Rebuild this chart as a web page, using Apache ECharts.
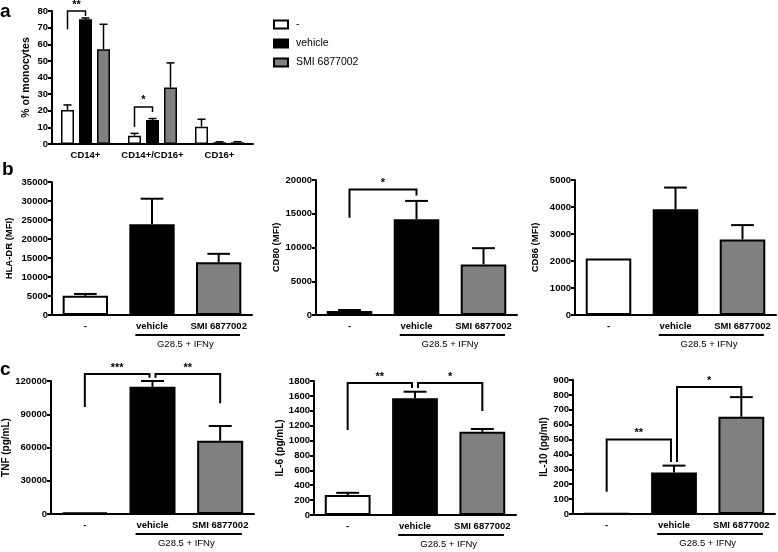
<!DOCTYPE html>
<html>
<head>
<meta charset="utf-8">
<script src="https://cdn.jsdelivr.net/npm/echarts@6/dist/echarts.min.js"></script>
<style>
html, body { margin: 0; padding: 0; background: #fff; }
#chart { width: 778px; height: 552px; }
</style>
</head>
<body>
<div id="chart"></div>
<script>
var treatments = ['-', 'vehicle', 'SMI 6877002'];
var subsets = ['CD14+', 'CD14+/CD16+', 'CD16+'];
var fillColors = ['#ffffff', '#000000', '#808080'];

// a: % of monocytes per subset, mean and upper error
var monoNone = [20.5, 5, 10.4];
var monoNoneErr = [3, 1.4, 4.5];
var monoVehicle = [75, 14.5, 1];
var monoVehicleErr = [0.8, 0.8, 0.3];
var monoSmi = [57, 34, 1];
var monoSmiErr = [15, 14.8, 0.4];

// b: MFI
var hlaDr = [5040, 23900, 13900];
var hlaDrErr = [500, 6700, 2200];
var cd80 = [590, 14200, 7500];
var cd80Err = [150, 2700, 2400];
var cd86 = [2090, 3920, 2800];
var cd86Err = [0, 800, 530];

// c: cytokines
var tnf = [1500, 114800, 66100];
var tnfErr = [0, 5200, 13300];
var il6 = [268, 1568, 1119];
var il6Err = [30, 88, 36];
var il10 = [5, 278, 653];
var il10Err = [0, 47, 132];

// y axis ticks: [max, step]
var monoTicks = [80, 10];
var hlaDrTicks = [35000, 5000];
var cd80Ticks = [20000, 5000];
var cd86Ticks = [5000, 1000];
var tnfTicks = [120000, 30000];
var il6Ticks = [1800, 200];
var il10Ticks = [900, 100];

// significance: a -> [subset, fromSeries, toSeries, leftY, topY, rightY, stars]
var monoBrackets = [
    [0, 0, 1, 69, 80, 77, '**'],
    [1, 0, 1, 10.2, 22.3, 19.2, '*']
];
// b/c -> [fromBar, toBar, leftY, topY, rightY, stars]
var cd80Brackets = [[0, 1, 14400, 18600, 17700, '*']];
var tnfBrackets = [[0, 1, 96500, 126300, 123000, '***'], [1, 2, 123000, 126300, 100000, '**']];
var il6Brackets = [[0, 1, 1142, 1773, 1706, '**'], [1, 2, 1706, 1773, 1397, '*']];
var il10Brackets = [[0, 1, 150, 500, 349, '**'], [1, 2, 349, 853, 786, '*']];

var FONT = '"Liberation Sans", Arial, sans-serif';
var BAR_W = 13, BAR_GAP = 5;

var grids = [
    {left: 52, top: 11, width: 201, height: 133},
    {left: 52, top: 182, width: 200, height: 133},
    {left: 316, top: 180, width: 201, height: 135},
    {left: 575, top: 180, width: 201, height: 135},
    {left: 51, top: 381, width: 203, height: 133},
    {left: 314, top: 381, width: 202, height: 134},
    {left: 573, top: 380, width: 202, height: 134}
];

function xAx(gi, cats) {
    return {
        type: 'category', gridIndex: gi, data: cats,
        axisLine: {lineStyle: {color: '#000', width: 2}},
        axisTick: {alignWithLabel: true, length: 4, lineStyle: {color: '#000', width: 2}},
        axisLabel: {interval: 0, color: '#000', fontSize: 9.5, fontWeight: 'bold', margin: 6, fontFamily: FONT}
    };
}

function yAx(gi, ticks, name, gap, nameSize) {
    return {
        type: 'value', gridIndex: gi, min: 0, max: ticks[0], interval: ticks[1],
        name: name, nameLocation: 'middle', nameGap: gap, nameRotate: 90,
        nameTextStyle: {color: '#000', fontSize: nameSize, fontWeight: 'bold', fontFamily: FONT},
        axisLine: {show: true, lineStyle: {color: '#000', width: 2}},
        axisTick: {show: true, length: 4, lineStyle: {color: '#000', width: 2}},
        axisLabel: {color: '#000', fontSize: 9.5, fontWeight: 'bold', margin: 4, fontFamily: FONT,
            formatter: function (v) { return String(v); }},
        splitLine: {show: false}
    };
}

function lineEl(x1, y1, x2, y2, w) {
    return {type: 'line', shape: {x1: x1, y1: y1, x2: x2, y2: y2}, style: {stroke: '#000', lineWidth: w}};
}

function errorBars(gi, means, errs, shift, capRatio, lw) {
    return {
        type: 'custom', xAxisIndex: gi, yAxisIndex: gi, z: 4, silent: true,
        renderItem: function (params, api) {
            var i = params.dataIndex;
            if (!errs[i]) return {type: 'group', children: []};
            var base = api.coord([i, means[i]]);
            var top = api.coord([i, means[i] + errs[i]]);
            var cap = api.size([1, 0])[0] * capRatio;
            var x = base[0] + shift;
            return {type: 'group', children: [
                lineEl(x, base[1], x, top[1], lw),
                lineEl(x - cap / 2, top[1], x + cap / 2, top[1], lw)
            ]};
        },
        data: means.map(function (v, i) { return [i, v + errs[i]]; })
    };
}

function bracketGroup(pts, label, lw) {
    var mid = (pts[1][0] + pts[2][0]) / 2;
    return {type: 'group', children: [
        {type: 'polyline', shape: {points: pts}, style: {stroke: '#000', lineWidth: lw, fill: null}},
        {type: 'text', style: {text: label, x: mid, y: pts[1][1] - 1, align: 'center', verticalAlign: 'bottom',
            fontSize: 11, fontWeight: 'bold', fontFamily: FONT, fill: '#000'}}
    ]};
}

function brackets(gi, list) {
    return {
        type: 'custom', xAxisIndex: gi, yAxisIndex: gi, z: 5, silent: true, clip: false,
        renderItem: function (params, api) {
            var b = list[params.dataIndex];
            var fromShared = list.some(function (o) { return o !== b && o[1] === b[0]; });
            var toShared = list.some(function (o) { return o !== b && o[0] === b[1]; });
            var x1 = api.coord([b[0], 0])[0] + (fromShared ? 3 : 0);
            var x2 = api.coord([b[1], 0])[0] - (toShared ? 3 : 0);
            var yl = api.coord([0, b[2]])[1], yt = api.coord([0, b[3]])[1], yr = api.coord([0, b[4]])[1];
            return bracketGroup([[x1, yl], [x1, yt], [x2, yt], [x2, yr]], b[5], 2);
        },
        data: list.map(function (b) { return [b[0], b[3]]; })
    };
}

function monoBracketSeries(list) {
    return {
        type: 'custom', xAxisIndex: 0, yAxisIndex: 0, z: 5, silent: true, clip: false,
        renderItem: function (params, api) {
            var b = list[params.dataIndex];
            var c = api.coord([b[0], 0])[0];
            var x1 = c + (b[1] - 1) * (BAR_W + BAR_GAP);
            var x2 = c + (b[2] - 1) * (BAR_W + BAR_GAP);
            var yl = api.coord([0, b[3]])[1], yt = api.coord([0, b[4]])[1], yr = api.coord([0, b[5]])[1];
            return bracketGroup([[x1, yl], [x1, yt], [x2, yt], [x2, yr]], b[6], 1.5);
        },
        data: list.map(function (b) { return [b[0], b[4]]; })
    };
}

function treatmentNote(gi) {
    return {
        type: 'custom', xAxisIndex: gi, yAxisIndex: gi, silent: true, clip: false,
        renderItem: function (params, api) {
            var p1 = api.coord([1, 0]), p2 = api.coord([2, 0]);
            var band = api.size([1, 0])[0];
            var y = p1[1] + 20;
            return {type: 'group', children: [
                lineEl(p1[0] - band * 0.25, y, p2[0] + band * 0.32, y, 2),
                {type: 'text', style: {text: 'G28.5 + IFNy', x: (p1[0] + p2[0]) / 2, y: y + 9,
                    align: 'center', verticalAlign: 'middle', fontSize: 9.5, fontFamily: FONT, fill: '#000'}}
            ]};
        },
        data: [[1, 0]]
    };
}

function treatmentBars(gi, values) {
    return {
        type: 'bar', xAxisIndex: gi, yAxisIndex: gi, barCategoryGap: '32%', z: 3, silent: true,
        data: values.map(function (v, i) {
            return {value: v, itemStyle: {color: fillColors[i], borderColor: '#000', borderWidth: 2}};
        })
    };
}

function monoBars(name, values, color) {
    return {
        name: name, type: 'bar', xAxisIndex: 0, yAxisIndex: 0, barWidth: BAR_W, barGap: (BAR_GAP / BAR_W * 100) + '%',
        z: 3, silent: true, data: values,
        itemStyle: {color: color, borderColor: '#000', borderWidth: 1.5}
    };
}

var panels = [
    [1, hlaDr, hlaDrErr, null],
    [2, cd80, cd80Err, cd80Brackets],
    [3, cd86, cd86Err, null],
    [4, tnf, tnfErr, tnfBrackets],
    [5, il6, il6Err, il6Brackets],
    [6, il10, il10Err, il10Brackets]
];

var series = [
    monoBars(treatments[0], monoNone, fillColors[0]),
    monoBars(treatments[1], monoVehicle, fillColors[1]),
    monoBars(treatments[2], monoSmi, fillColors[2]),
    errorBars(0, monoNone, monoNoneErr, -(BAR_W + BAR_GAP), 0.12, 1.5),
    errorBars(0, monoVehicle, monoVehicleErr, 0, 0.12, 1.5),
    errorBars(0, monoSmi, monoSmiErr, BAR_W + BAR_GAP, 0.12, 1.5),
    monoBracketSeries(monoBrackets)
];
panels.forEach(function (p) {
    series.push(treatmentBars(p[0], p[1]));
    series.push(errorBars(p[0], p[1], p[2], 0, 0.34, 2));
    series.push(treatmentNote(p[0]));
    if (p[3]) series.push(brackets(p[0], p[3]));
});

var chart = echarts.init(document.getElementById('chart'));
chart.setOption({
    animation: false,
    backgroundColor: '#fff',
    textStyle: {fontFamily: FONT},
    grid: grids,
    xAxis: [xAx(0, subsets), xAx(1, treatments), xAx(2, treatments), xAx(3, treatments),
        xAx(4, treatments), xAx(5, treatments), xAx(6, treatments)],
    yAxis: [
        yAx(0, monoTicks, '% of monocytes', 20, 10.5),
        yAx(1, hlaDrTicks, 'HLA-DR (MFI)', 38, 9.5),
        yAx(2, cd80Ticks, 'CD80 (MFI)', 35, 9.5),
        yAx(3, cd86Ticks, 'CD86 (MFI)', 35, 9.5),
        yAx(4, tnfTicks, 'TNF (pg/mL)', 39, 10),
        yAx(5, il6Ticks, 'IL-6 (pg/mL)', 26, 10),
        yAx(6, il10Ticks, 'IL-10 (pg/ml)', 22, 10)
    ],
    legend: {
        orient: 'vertical', left: 268, top: 14, itemWidth: 14, itemHeight: 8, itemGap: 8,
        icon: 'rect', data: treatments, selectedMode: false,
        textStyle: {color: '#000', fontSize: 10.5, fontFamily: FONT, padding: [0, 0, 0, 3]}
    },
    graphic: [
        {type: 'text', left: 0, top: 2, style: {text: 'a', fontSize: 19, fontWeight: 'bold', fontFamily: FONT, fill: '#000'}},
        {type: 'text', left: 2, top: 160, style: {text: 'b', fontSize: 19, fontWeight: 'bold', fontFamily: FONT, fill: '#000'}},
        {type: 'text', left: 0, top: 360, style: {text: 'c', fontSize: 19, fontWeight: 'bold', fontFamily: FONT, fill: '#000'}}
    ],
    series: series
});
</script>
</body>
</html>
